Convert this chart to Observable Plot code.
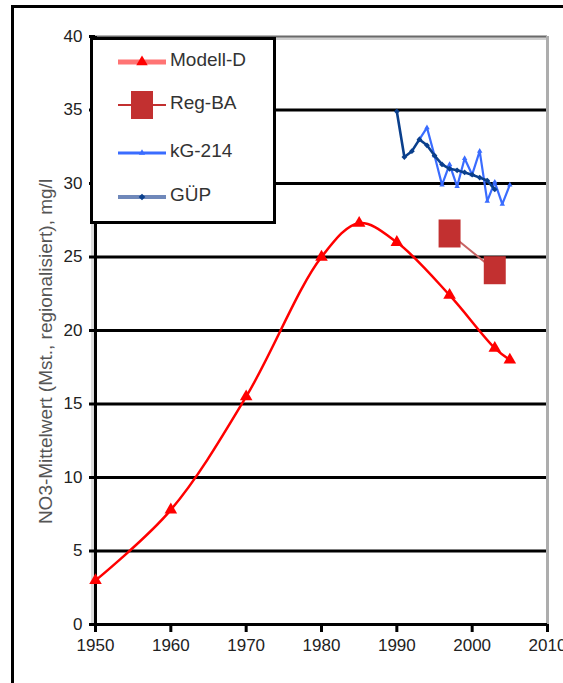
<!DOCTYPE html>
<html><head><meta charset="utf-8">
<script src="https://cdn.jsdelivr.net/npm/d3@7"></script>
<script src="https://cdn.jsdelivr.net/npm/@observablehq/plot@0.6"></script>
<style>
body{margin:0;background:#fff;}
#wrap{position:relative;width:563px;height:683px;overflow:hidden;background:#fff;}
#frame{position:absolute;left:11px;top:5px;width:700px;height:800px;border:3px solid #000;pointer-events:none;}
#chart{position:absolute;left:0;top:0;}
</style></head><body>
<div id="wrap"><div id="chart"></div><div id="frame"></div></div>
<script>
// ---- data ----
const modellYears  = [1950, 1960, 1970, 1980, 1985, 1990, 1997, 2003, 2005];
const modellValues = [3.0, 7.8, 15.5, 25.0, 27.3, 26.0, 22.4, 18.8, 18.0];
const regYears  = [1997, 2003];
const regValues = [26.6, 24.1];
const kgYears  = [1993, 1994, 1995, 1996, 1997, 1998, 1999, 2000, 2001, 2002, 2003, 2004, 2005];
const kgValues = [33.0, 33.8, 31.9, 29.9, 31.3, 29.8, 31.7, 30.6, 32.2, 28.8, 30.1, 28.6, 29.9];
const guepYears  = [1990, 1991, 1992, 1993, 1994, 1995, 1996, 1997, 1998, 1999, 2000, 2001, 2002, 2003];
const guepValues = [34.9, 31.8, 32.2, 33.0, 32.6, 31.9, 31.3, 31.0, 30.9, 30.75, 30.6, 30.4, 30.2, 29.6];
const xTicks = [1950, 1960, 1970, 1980, 1990, 2000, 2010];
const yTicks = [0, 5, 10, 15, 20, 25, 30, 35, 40];
const gridValues = [5, 10, 15, 20, 25, 30, 35];
const seriesNames = ["Modell-D", "Reg-BA", "kG-214", "GÜP"];
const yLabel = "NO3-Mittelwert (Mst., regionalisiert), mg/l";

const zip = (xs, ys) => xs.map((x, i) => ({x, y: ys[i]}));
const modell = zip(modellYears, modellValues);
const reg = zip(regYears, regValues);
const kg = zip(kgYears, kgValues);
const guep = zip(guepYears, guepValues);

const colors = {modell: "#ff0000", reg: "#c23030", kg: "#3a6cff", guep: "#0a3f8c"};

// tall rectangle symbol for Reg-BA
const rectSymbol = {
  draw(ctx, size) {
    const s = Math.sqrt(size);
    const w = s * 0.62, h = s * 0.79;
    ctx.rect(-w, -h, 2 * w, 2 * h);
  }
};

const font = "Liberation Sans, Arial, sans-serif";

const plot = Plot.plot({
  width: 563, height: 683,
  marginLeft: 95, marginRight: 16, marginTop: 36, marginBottom: 59,
  style: {fontFamily: font, background: "transparent"},
  x: {domain: [1950, 2010]},
  y: {domain: [0, 40]},
  marks: [
    Plot.ruleY(gridValues, {stroke: "#000", strokeWidth: 3}),
    Plot.ruleY([40], {stroke: "#cfcfcf", strokeWidth: 3, dy: 2}),
    Plot.ruleY([40], {stroke: "#6a6a6a", strokeWidth: 2}),
    Plot.ruleX([2010], {stroke: "#adadad", strokeWidth: 3}),
    Plot.ruleX([1950], {stroke: "#dcdcdc", strokeWidth: 3, dx: -3}),
    Plot.ruleX([1950], {stroke: "#000", strokeWidth: 3}),
    Plot.ruleY([0], {stroke: "#000", strokeWidth: 3}),
    Plot.axisY({ticks: yTicks, tickSize: 6, tickPadding: 7, strokeWidth: 3, stroke: "#000",
      fontSize: 17, fill: "#222", label: null, tickFormat: d => String(d)}),
    Plot.axisX({ticks: xTicks, tickSize: 8, tickPadding: 6, strokeWidth: 3, stroke: "#000",
      fontSize: 17, fill: "#222", label: null, tickFormat: d => String(d)}),
    Plot.text([yLabel], {frameAnchor: "left", text: d => d, rotate: -90, dx: -50, dy: 21,
      textAnchor: "middle", fontSize: 19, fill: "#555", fontFamily: font}),
    // Modell-D
    Plot.line(modell, {x: "x", y: "y", curve: "catmull-rom", stroke: colors.modell, strokeWidth: 2.5}),
    Plot.dot(modell, {x: "x", y: "y", symbol: "triangle2", r: 6, fill: colors.modell, stroke: null}),
    // Reg-BA
    Plot.line(reg, {x: "x", y: "y", stroke: "#c86464", strokeWidth: 2}),
    Plot.dot(reg, {x: "x", y: "y", symbol: rectSymbol, r: 10, fill: colors.reg, stroke: null}),
    // kG-214
    Plot.line(kg, {x: "x", y: "y", stroke: colors.kg, strokeWidth: 2.2}),
    Plot.dot(kg, {x: "x", y: "y", symbol: "triangle2", r: 2.6, fill: colors.kg, stroke: null}),
    // GÜP
    Plot.line(guep, {x: "x", y: "y", stroke: colors.guep, strokeWidth: 2.6}),
    Plot.dot(guep, {x: "x", y: "y", symbol: "diamond2", r: 2.6, fill: colors.guep, stroke: null})
  ]
});
document.getElementById("chart").appendChild(plot);

// ---- legend (inside the plot, top-left) ----
const svg = d3.select(plot);
const lg = svg.append("g").attr("font-family", font).attr("text-anchor", "start");
lg.append("rect").attr("x", 91.5).attr("y", 38.5).attr("width", 183).attr("height", 184)
  .attr("fill", "#fff").attr("stroke", "#000").attr("stroke-width", 3);
const rowY = [62, 105, 153, 197];
const lineStyles = [
  {stroke: "#ff7474", width: 5},
  {stroke: "#c23030", width: 2},
  {stroke: "#3a6cff", width: 3},
  {stroke: "#6f88ba", width: 4}
];
seriesNames.forEach((name, i) => {
  const y = rowY[i];
  lg.append("line").attr("x1", 118).attr("x2", 166).attr("y1", y).attr("y2", y)
    .attr("stroke", lineStyles[i].stroke).attr("stroke-width", lineStyles[i].width);
  let sym;
  if (i === 0) sym = d3.symbol(d3.symbolTriangle2, Math.PI * 30)();
  else if (i === 1) sym = d3.symbol(rectSymbol, Math.PI * 100)();
  else if (i === 2) sym = d3.symbol(d3.symbolTriangle2, Math.PI * 9)();
  else sym = d3.symbol(d3.symbolDiamond2, Math.PI * 9)();
  const fills = [colors.modell, colors.reg, colors.kg, colors.guep];
  lg.append("path").attr("d", sym).attr("transform", `translate(142,${y})`).attr("fill", fills[i]);
  lg.append("text").attr("x", 170).attr("y", y - 3).attr("dy", "0.35em")
    .attr("font-size", 19).attr("fill", "#333").text(name);
});
</script>
</body></html>
